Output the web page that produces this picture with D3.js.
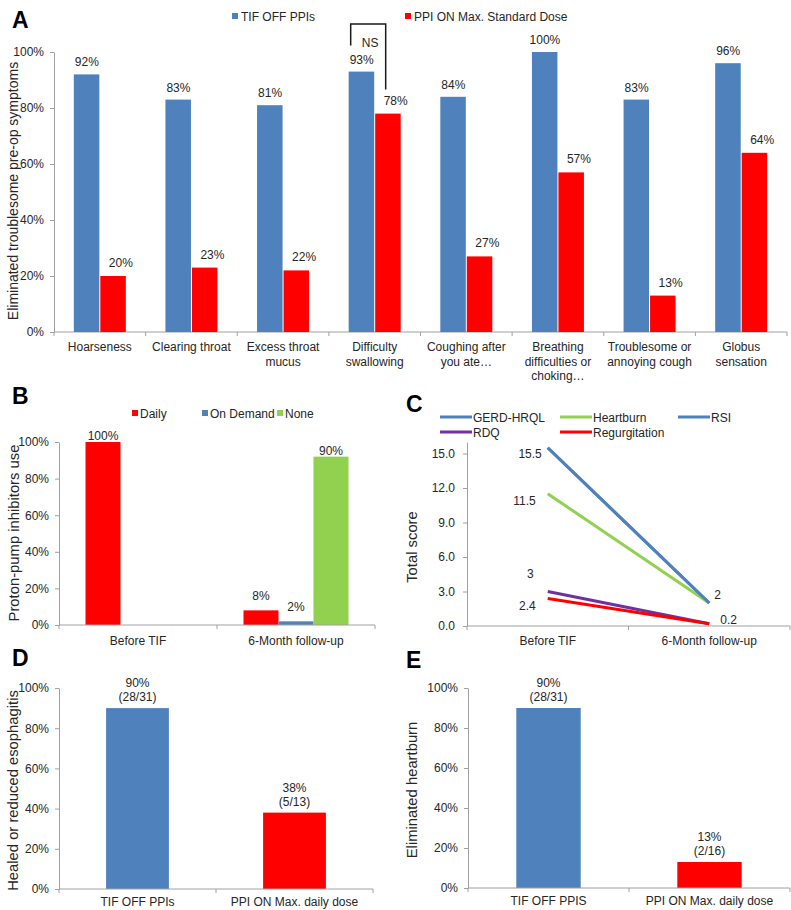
<!DOCTYPE html>
<html><head><meta charset="utf-8">
<script src="https://cdn.jsdelivr.net/npm/d3@7"></script>
<style>body{margin:0;background:#fff}svg{display:block;font-family:"Liberation Sans",Arial,sans-serif}</style>
</head><body><svg id="c" width="791" height="910"></svg>
<script>
// ---------- Panel A ----------
const symptomCats = ["Hoarseness","Clearing throat","Excess throat\nmucus","Difficulty\nswallowing","Coughing  after\nyou ate…","Breathing\ndifficulties or\nchoking…","Troublesome or\nannoying cough","Globus\nsensation"];
const seriesA = ["TIF OFF PPIs","PPI ON Max. Standard Dose"];
const tifOffPPIs = [92,83,81,93,84,100,83,96];
const ppiOnMaxStd = [20,23,22,78,27,57,13,64];
const pctTicks = [0,20,40,60,80,100];
// ---------- Panel B ----------
const periods = ["Before TIF","6-Month follow-up"];
const ppiUseSeries = ["Daily","On Demand","None"];
const dailyUse = [100,8];
const onDemandUse = [0,2];
const noneUse = [0,92];
const ppiUseLabels = [["100%","8%"],[null,"2%"],[null,"90%"]];
// ---------- Panel C ----------
const scoreSeries = ["GERD-HRQL","Heartburn","RSI","RDQ","Regurgitation"];
const scoreBefore = [15.5,11.5,15.5,3,2.4];
const scoreAfter = [2,2,2,0.2,0.2];
const scoreTicks = [0,3,6,9,12,15];
// ---------- Panel D ----------
const groupsD = ["TIF OFF PPIs","PPI ON Max. daily dose"];
const healedPct = [90,38];
const healedLabels = [["90%","(28/31)"],["38%","(5/13)"]];
// ---------- Panel E ----------
const groupsE = ["TIF OFF PPIS","PPI ON Max. daily dose"];
const heartburnPct = [90,13];
const heartburnLabels = [["90%","(28/31)"],["13%","(2/16)"]];

const BLUE="#4f81bd", RED="#ff0000", GREEN="#92d050", PURPLE="#7030a0";
const AX="#a0a0a0", TXT="#262626";
const svg = d3.select("#c");

function yAxis(scale, x, ticks, fmt, pad){
  const g = svg.append("g").attr("transform",`translate(${x},0)`)
    .call(d3.axisLeft(scale).tickValues(ticks).tickFormat(fmt).tickSize(4).tickSizeOuter(0).tickPadding(pad||5));
  g.select(".domain").attr("stroke",AX);
  g.selectAll(".tick line").attr("stroke",AX);
  g.selectAll(".tick text").attr("fill",TXT).style("font-size","12px").style("font-family",'"Liberation Sans",Arial,sans-serif');
  return g;
}
function xBandAxis(scale, y, labelDy, lineH){
  const [x0,x1] = scale.range();
  const g = svg.append("g");
  g.append("line").attr("x1",x0).attr("x2",x1).attr("y1",y).attr("y2",y).attr("stroke",AX);
  const bounds = scale.domain().map(d=>scale(d)).concat([x1]);
  g.selectAll(".bt").data(bounds).join("line").attr("x1",d=>d).attr("x2",d=>d).attr("y1",y).attr("y2",y+4).attr("stroke",AX);
  scale.domain().forEach(d=>{
    const t = g.append("text").attr("x",scale(d)+scale.bandwidth()/2).attr("y",y+labelDy)
      .attr("text-anchor","middle").attr("fill",TXT).style("font-size","12px");
    d.split("\n").forEach((ln,i)=>t.append("tspan").attr("x",scale(d)+scale.bandwidth()/2).attr("dy",i?lineH:0).text(ln));
  });
}
function yTitle(text, x, yc, fs){
  svg.append("text").attr("transform",`translate(${x},${yc}) rotate(-90)`).attr("text-anchor","middle")
    .attr("dy","0.35em").attr("fill",TXT).style("font-size",(fs||14.8)+"px").text(text);
}
function panelLetter(t,x,y){
  svg.append("text").attr("x",x).attr("y",y).attr("fill","#000").style("font-size","23px").style("font-weight","bold").text(t);
}

// ================= Panel A =================
panelLetter("A",12,28);
const xA = d3.scaleBand().domain(symptomCats).range([54,787]);
const yA = d3.scaleLinear().domain([0,100]).range([332,52]);
const bwA = 26;
yAxis(yA,54,pctTicks,d=>d+"%",6);
xBandAxis(xA,332,19,14.5);
yTitle("Eliminated troublesome pre-op symptoms",13,191,14);
const dataA = symptomCats.map((c,i)=>({c,a:tifOffPPIs[i],b:ppiOnMaxStd[i]}));
const gA = svg.append("g");
gA.selectAll(".ba").data(dataA).join("rect").attr("x",d=>xA(d.c)+xA.bandwidth()/2-bwA).attr("width",bwA-0.5)
  .attr("y",d=>yA(d.a)).attr("height",d=>yA(0)-yA(d.a)).attr("fill",BLUE);
gA.selectAll(".bb").data(dataA).join("rect").attr("x",d=>xA(d.c)+xA.bandwidth()/2+0.5).attr("width",bwA-0.5)
  .attr("y",d=>yA(d.b)).attr("height",d=>yA(0)-yA(d.b)).attr("fill",RED);
gA.selectAll(".la").data(dataA).join("text").attr("x",d=>xA(d.c)+xA.bandwidth()/2-bwA/2).attr("y",d=>yA(d.a)-8)
  .attr("text-anchor","middle").attr("fill",TXT).style("font-size","12px").text(d=>d.a+"%");
gA.selectAll(".lb").data(dataA).join("text").attr("x",d=>xA(d.c)+xA.bandwidth()/2+bwA/2+8).attr("y",d=>yA(d.b)-9)
  .attr("text-anchor","middle").attr("fill",TXT).style("font-size","12px").text(d=>d.b+"%");
// legend A
[[BLUE,232,seriesA[0]],[RED,405,seriesA[1]]].forEach(([col,x,t])=>{
  svg.append("rect").attr("x",x).attr("y",13).attr("width",6).attr("height",6).attr("fill",col);
  svg.append("text").attr("x",x+9).attr("y",21).attr("fill",TXT).style("font-size","12px").text(t);
});
// NS bracket
{
  const cx = xA(symptomCats[3])+xA.bandwidth()/2;
  const top = yA(100)-28;
  const lx = cx-24, rx = cx+11;
  svg.append("path").attr("d",`M${lx},${yA(tifOffPPIs[3])-26}V${top}H${rx}V${yA(ppiOnMaxStd[3])-24}`)
    .attr("fill","none").attr("stroke","#1a1a1a").attr("stroke-width",1.5);
  svg.append("text").attr("x",(lx+rx)/2+2).attr("y",top+23).attr("text-anchor","middle").attr("fill",TXT).style("font-size","12px").text("NS");
}

// ================= Panel B =================
panelLetter("B",12,404);
const xB = d3.scaleBand().domain(periods).range([59,375]);
const yB = d3.scaleLinear().domain([0,100]).range([625,442]);
const subB = d3.scaleBand().domain(ppiUseSeries).range([-52.5,52.5]);
const colB = [RED,BLUE,GREEN];
const valsB = [dailyUse,onDemandUse,noneUse];
yAxis(yB,59,pctTicks,d=>d+"%",6);
yTitle("Proton-pump inhibitors use",14,533);
const gB = svg.append("g");
ppiUseSeries.forEach((s,si)=>{
  periods.forEach((p,pi)=>{
    const v = valsB[si][pi];
    const x = xB(p)+xB.bandwidth()/2+subB(s);
    if(v>0) gB.append("rect").attr("x",x).attr("width",subB.bandwidth()).attr("y",yB(v)).attr("height",yB(0)-yB(v)).attr("fill",colB[si]);
    const lab = ppiUseLabels[si][pi];
    if(lab) gB.append("text").attr("x",x+subB.bandwidth()/2).attr("y",yB(v)-(v>50?2:10))
      .attr("text-anchor","middle").attr("fill",TXT).style("font-size","12px").text(lab);
  });
});
xBandAxis(xB,625,20,14);
[[RED,132],[BLUE,202],[GREEN,277]].forEach(([col,x],i)=>{
  svg.append("rect").attr("x",x).attr("y",410).attr("width",6).attr("height",6).attr("fill",col);
  svg.append("text").attr("x",x+8).attr("y",418).attr("fill",TXT).style("font-size","12px").text(ppiUseSeries[i]);
});

// ================= Panel C =================
panelLetter("C",406,412);
const xC = d3.scaleBand().domain(periods).range([467,790]);
const yC = d3.scaleLinear().domain([0,16]).range([626,442]);
const colC = [BLUE,GREEN,BLUE,PURPLE,RED];
yAxis(yC,467,scoreTicks,d3.format(".1f"),8);
xBandAxis(xC,626,19,14);
yTitle("Total score",412,547);
const line = d3.line().x(d=>d[0]).y(d=>d[1]);
const cxs = periods.map(p=>xC(p)+xC.bandwidth()/2);
scoreSeries.forEach((s,i)=>{
  svg.append("path").attr("d",line([[cxs[0],yC(scoreBefore[i])],[cxs[1],yC(scoreAfter[i])]]))
    .attr("stroke",colC[i]).attr("stroke-width",3).attr("fill","none");
});
// value labels (unique values)
const startOff = {"15.5":[-6,10],"11.5":[-12,11],"3":[-14,-14],"2.4":[-12,12]};
[...new Set(scoreBefore)].forEach(v=>{
  const o = startOff[String(v)]||[-6,4];
  svg.append("text").attr("x",cxs[0]+o[0]).attr("y",yC(v)+o[1]).attr("text-anchor","end").attr("fill",TXT).style("font-size","12px").text(String(v));
});
const endOff = {"2":[5,-4],"0.2":[11,0]};
[...new Set(scoreAfter)].forEach(v=>{
  const o = endOff[String(v)]||[6,4];
  svg.append("text").attr("x",cxs[1]+o[0]).attr("y",yC(v)+o[1]).attr("text-anchor","start").attr("fill",TXT).style("font-size","12px").text(String(v));
});
// legend C
const legC = [[440,417],[560,417],[678,417],[440,432],[560,432]];
scoreSeries.forEach((s,i)=>{
  const [x,y] = legC[i];
  svg.append("line").attr("x1",x).attr("x2",x+32).attr("y1",y).attr("y2",y).attr("stroke",colC[i]).attr("stroke-width",3);
  svg.append("text").attr("x",x+33).attr("y",y+4.5).attr("fill",TXT).style("font-size","12px").text(s);
});

// ================= Panel D =================
panelLetter("D",12,666);
function twoBarPanel(groups, vals, labels, x0, x1, y0, y1, axisX, titleText, titleX){
  const x = d3.scaleBand().domain(groups).range([x0,x1]);
  const y = d3.scaleLinear().domain([0,100]).range([y0,y1]);
  yAxis(y,axisX,pctTicks,d=>d+"%",6);
  const bw = x.bandwidth()*0.4;
  const cols = [BLUE,RED];
  groups.forEach((g,i)=>{
    const cx = x(g)+x.bandwidth()/2;
    svg.append("rect").attr("x",cx-bw/2).attr("width",bw).attr("y",y(vals[i])).attr("height",y(0)-y(vals[i])).attr("fill",cols[i]);
    svg.append("text").attr("x",cx).attr("y",y(vals[i])-21).attr("text-anchor","middle").attr("fill",TXT).style("font-size","12px").text(labels[i][0]);
    svg.append("text").attr("x",cx).attr("y",y(vals[i])-7).attr("text-anchor","middle").attr("fill",TXT).style("font-size","12px").text(labels[i][1]);
  });
  xBandAxis(x,y0,17,14);
  yTitle(titleText,titleX,(y0+y1)/2+2);
}
twoBarPanel(groupsD,healedPct,healedLabels,59,373,889,688,59,"Healed or reduced esophagitis",13);

// ================= Panel E =================
panelLetter("E",406,668);
twoBarPanel(groupsE,heartburnPct,heartburnLabels,468,790,888,688,468,"Eliminated heartburn",412);
</script></body></html>
